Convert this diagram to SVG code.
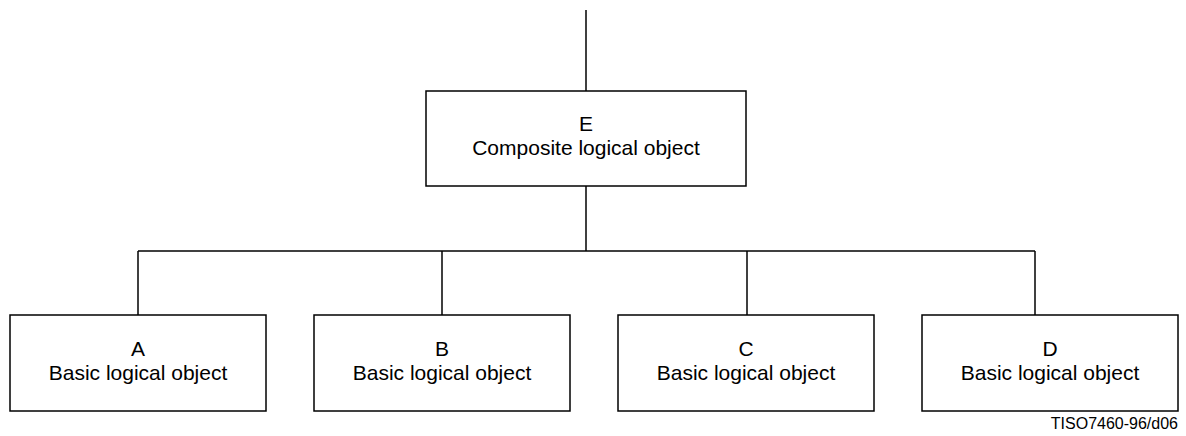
<svg xmlns="http://www.w3.org/2000/svg" width="1186" height="436" viewBox="0 0 1186 436">
<style>
.box{fill:#fff;stroke:#000;stroke-width:1.5}
.ln{fill:none;stroke:#000;stroke-width:1.5}
text{font-family:"Liberation Sans",Arial,sans-serif;font-size:21px;fill:#000;text-anchor:middle}
.ft{font-size:16px;text-anchor:end}
</style>
<rect width="1186" height="436" fill="#fff"/>
<g id="connectors">
<path class="ln" d="M586 10V91"/>
<path class="ln" d="M586 186V251"/>
<path class="ln" d="M138 251H1035"/>
<path class="ln" d="M138 251V315"/>
<path class="ln" d="M442 251V315"/>
<path class="ln" d="M747 251V315"/>
<path class="ln" d="M1035 251V315"/>
</g>
<g id="E">
<rect class="box" x="426" y="91" width="320" height="95"/>
<text x="586" y="131">E</text>
<text x="586" y="155">Composite logical object</text>
</g>
<g id="A">
<rect class="box" x="10" y="315" width="256" height="96"/>
<text x="138" y="356">A</text>
<text x="138" y="380">Basic logical object</text>
</g>
<g id="B">
<rect class="box" x="314" y="315" width="256" height="96"/>
<text x="442" y="356">B</text>
<text x="442" y="380">Basic logical object</text>
</g>
<g id="C">
<rect class="box" x="618" y="315" width="256" height="96"/>
<text x="746" y="356">C</text>
<text x="746" y="380">Basic logical object</text>
</g>
<g id="D">
<rect class="box" x="922" y="315" width="256" height="96"/>
<text x="1050" y="356">D</text>
<text x="1050" y="380">Basic logical object</text>
</g>
<text class="ft" x="1178" y="429">TISO7460-96/d06</text>
</svg>
